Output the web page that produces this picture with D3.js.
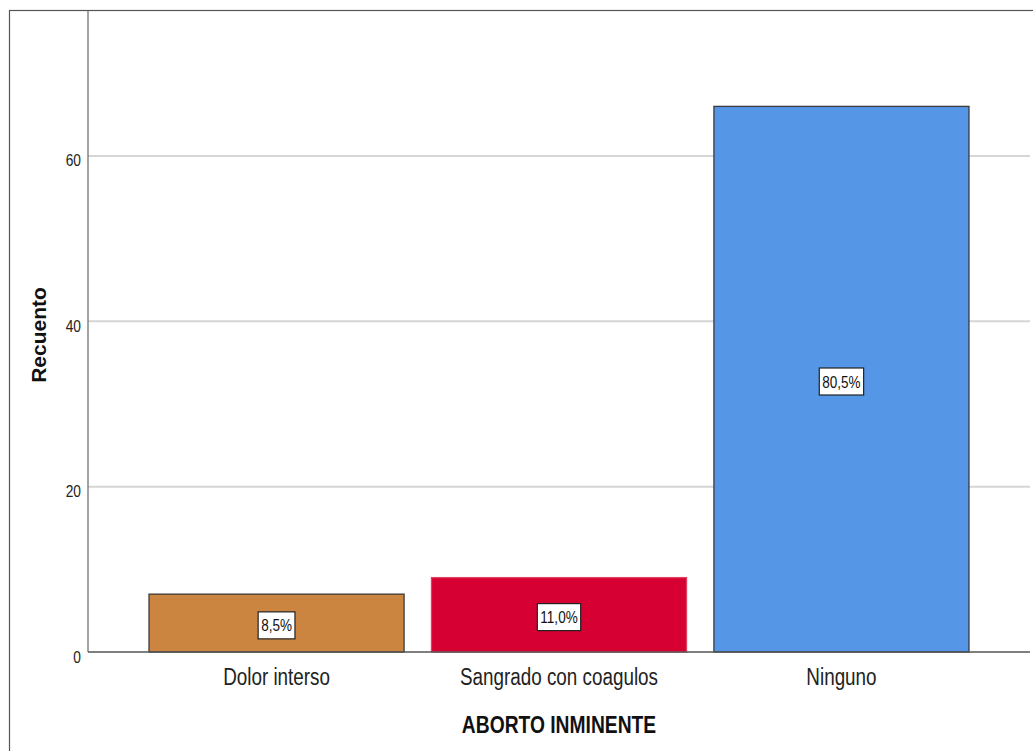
<!DOCTYPE html>
<html>
<head>
<meta charset="utf-8">
<script src="https://cdn.jsdelivr.net/npm/d3@7"></script>
<style>
  html, body { margin: 0; padding: 0; background: #fff; }
  svg { display: block; }
</style>
</head>
<body>
<svg id="chart" width="1033" height="751"></svg>
<script>
// ---- data ----
const categories = ["Dolor interso", "Sangrado con coagulos", "Ninguno"];
const counts = [7, 9, 66];
const percentLabels = ["8,5%", "11,0%", "80,5%"];
const yTicks = [0, 20, 40, 60];
const yTitle = "Recuento";
const xTitle = "ABORTO INMINENTE";

// ---- styles ----
const barFill = ["#CC8540", "#D70033", "#5596E6"];
const barStroke = ["#3a3a3a", "#e0405f", "#3a3a3a"];
const font = "'Liberation Sans', Arial, sans-serif";
const squeeze = 0.82; // condensed look of the original rendering

const svg = d3.select("#chart");
const plotLeft = 88, plotRight = 1030, plotTop = 10.5, plotBottom = 652;

// outer frame
svg.append("rect")
  .attr("x", 9.5).attr("y", 10.5)
  .attr("width", 1040).attr("height", 760)
  .attr("fill", "none").attr("stroke", "#555").attr("stroke-width", 1.2);

const x = d3.scaleBand()
  .domain(categories)
  .range([plotLeft, plotRight])
  .paddingInner(0.097)
  .paddingOuter(0.216);

const y = d3.scaleLinear()
  .domain([0, 77.6])
  .range([plotBottom, plotTop]);

// gridlines
svg.append("g").selectAll("line")
  .data(yTicks.filter(d => d > 0))
  .join("line")
  .attr("x1", plotLeft).attr("x2", plotRight)
  .attr("y1", d => y(d)).attr("y2", d => y(d))
  .attr("stroke", "#d6d6d6").attr("stroke-width", 2);

// y axis labels via d3 axis
const yAxis = d3.axisLeft(y).tickValues(yTicks).tickSize(0).tickPadding(0).tickFormat(d3.format("d"));
const gy = svg.append("g").attr("transform", `translate(${plotLeft},0)`).call(yAxis);
gy.select(".domain").remove();
gy.selectAll("text")
  .attr("x", null).attr("dy", null)
  .attr("font-family", font).attr("font-size", 16)
  .attr("fill", "#222")
  .attr("transform", `translate(-7,10) scale(0.86,1)`);

svg.append("line")
  .attr("x1", plotLeft).attr("x2", plotLeft)
  .attr("y1", plotTop).attr("y2", plotBottom)
  .attr("stroke", "#666").attr("stroke-width", 1.2);

// bars
svg.append("g").selectAll("rect")
  .data(counts)
  .join("rect")
  .attr("x", (d, i) => x(categories[i]))
  .attr("width", x.bandwidth())
  .attr("y", d => y(d))
  .attr("height", d => y(0) - y(d))
  .attr("fill", (d, i) => barFill[i])
  .attr("stroke", (d, i) => barStroke[i])
  .attr("stroke-width", 1.3);

// baseline
svg.append("line")
  .attr("x1", plotLeft).attr("x2", plotRight)
  .attr("y1", y(0)).attr("y2", y(0))
  .attr("stroke", "#555").attr("stroke-width", 1.3);

// percent label boxes
const lab = svg.append("g").selectAll("g")
  .data(counts)
  .join("g")
  .attr("transform", (d, i) => `translate(${x(categories[i]) + x.bandwidth() / 2},${(y(d) + y(0)) / 2 + 2.3})`);
lab.append("text")
  .attr("text-anchor", "middle")
  .attr("y", 6)
  .attr("font-family", font).attr("font-size", 16.5)
  .attr("fill", "#111")
  .attr("transform", `scale(${squeeze},1)`)
  .text((d, i) => percentLabels[i]);
lab.each(function () {
  const g = d3.select(this);
  const w = g.select("text").node().getComputedTextLength() * squeeze;
  g.insert("rect", "text")
    .attr("x", -w / 2 - 3).attr("y", -13.5)
    .attr("width", w + 6).attr("height", 27)
    .attr("fill", "#fff").attr("stroke", "#222").attr("stroke-width", 1.2);
});

// category labels via d3 axis
const xAxis = d3.axisBottom(x).tickSize(0).tickPadding(0);
const gx = svg.append("g").attr("transform", `translate(0,${plotBottom})`).call(xAxis);
gx.select(".domain").remove();
gx.selectAll("text")
  .attr("y", null).attr("dy", null)
  .attr("font-family", font).attr("font-size", 23)
  .attr("fill", "#222")
  .attr("transform", `translate(0,33) scale(${squeeze},1)`);

// axis titles
svg.append("text")
  .attr("text-anchor", "middle")
  .attr("font-family", font).attr("font-weight", "bold").attr("font-size", 23.5)
  .attr("fill", "#111")
  .attr("transform", `translate(${(plotLeft + plotRight) / 2},733) scale(${squeeze},1)`)
  .text(xTitle);

svg.append("text")
  .attr("transform", "translate(46,335) rotate(-90)")
  .attr("text-anchor", "middle")
  .attr("font-family", font).attr("font-weight", "bold").attr("font-size", 21)
  .attr("fill", "#111")
  .text(yTitle);
</script>
</body>
</html>
